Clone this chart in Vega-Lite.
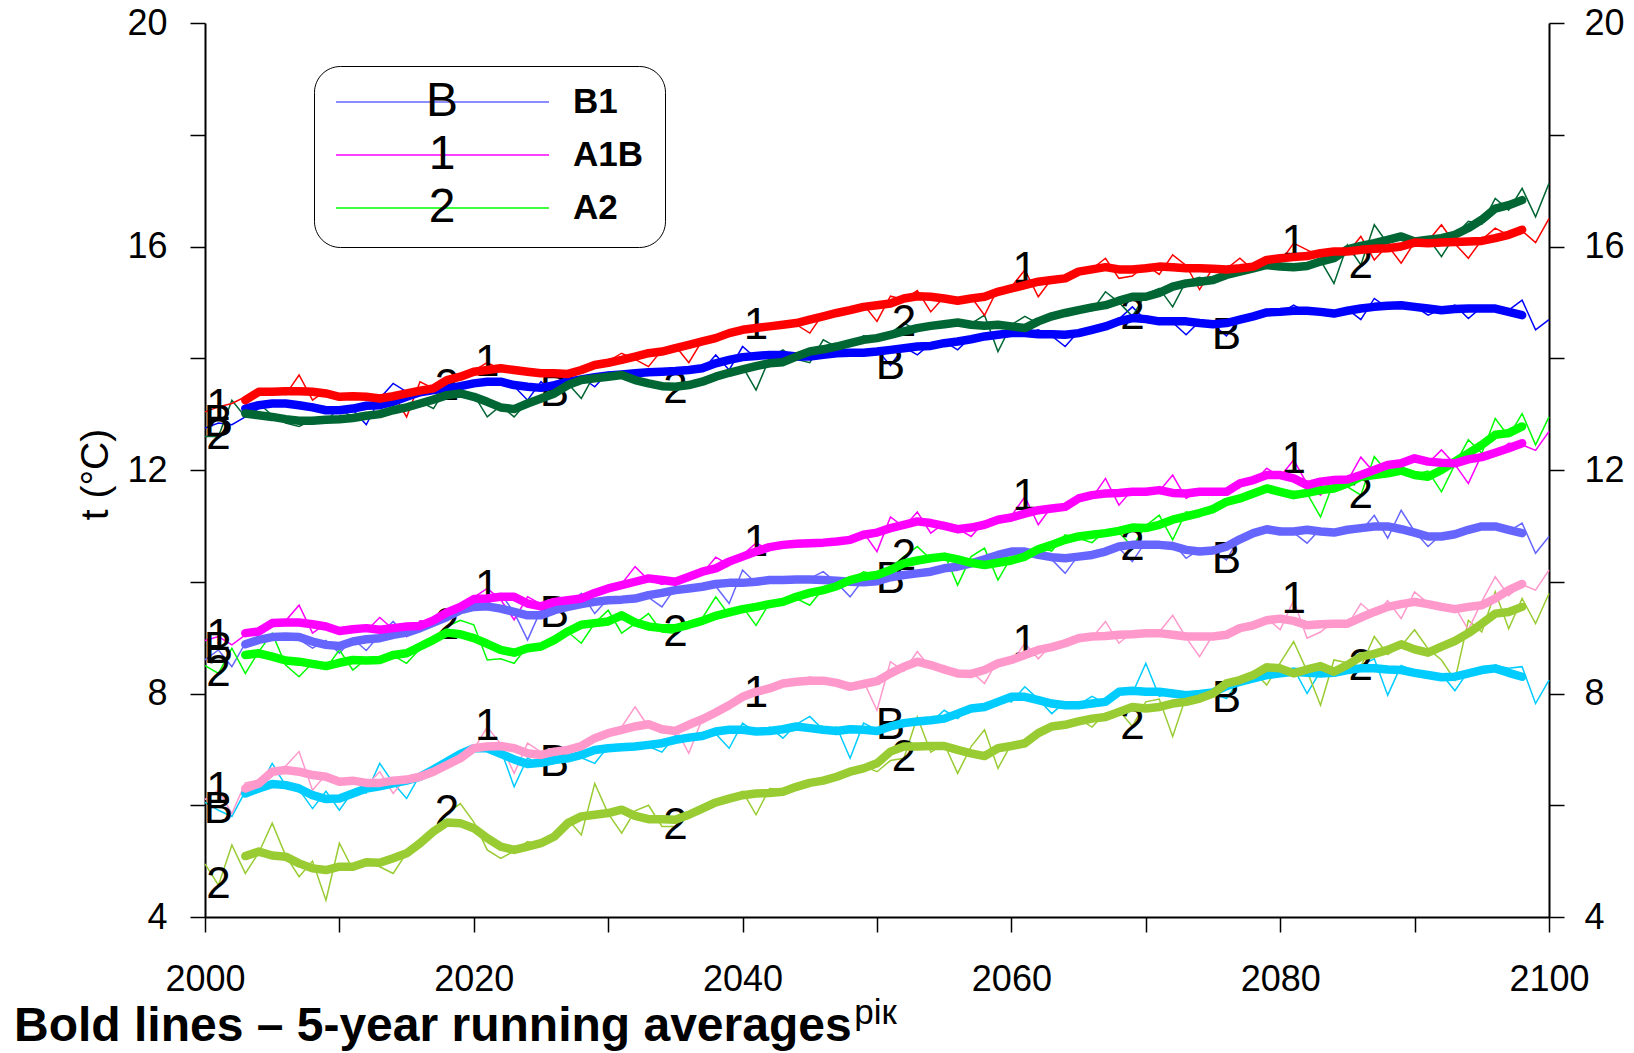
{
  "$schema": "https://vega.github.io/schema/vega-lite/v6.json",
  "width": 1344,
  "height": 894,
  "autosize": {"type": "none"},
  "padding": {"left": 205, "top": 23, "right": 85, "bottom": 136},
  "background": "white",
  "title": {
    "text": "Bold lines – 5-year running averages",
    "orient": "bottom", "anchor": "start", "frame": "group",
    "font": "Liberation Sans", "fontSize": 48, "fontWeight": "bold", "color": "black",
    "dx": -191, "offset": 0, "dy": -27
  },
  "datasets": {
    "annual": [
      {"year":2000,"B1_t":12.75,"A1B_t":13.04,"A2_t":12.60,"B1":8.60,"A1B":8.95,"A2":8.50,"B1_b":6.05,"A1B_b":6.10,"A2_b":4.95},
      {"year":2001,"B1_t":12.84,"A1B_t":13.13,"A2_t":12.60,"B1":8.78,"A1B":9.02,"A2":8.36,"B1_b":5.91,"A1B_b":6.27,"A2_b":4.57},
      {"year":2002,"B1_t":12.81,"A1B_t":13.19,"A2_t":13.25,"B1":8.48,"A1B":8.87,"A2":8.81,"B1_b":5.80,"A1B_b":5.85,"A2_b":5.29},
      {"year":2003,"B1_t":12.95,"A1B_t":13.31,"A2_t":12.95,"B1":8.90,"A1B":9.05,"A2":8.36,"B1_b":6.25,"A1B_b":6.40,"A2_b":4.78},
      {"year":2004,"B1_t":13.10,"A1B_t":13.38,"A2_t":13.19,"B1":9.02,"A1B":9.15,"A2":8.75,"B1_b":6.30,"A1B_b":6.45,"A2_b":5.15},
      {"year":2005,"B1_t":13.22,"A1B_t":13.45,"A2_t":12.98,"B1":8.98,"A1B":9.25,"A2":9.08,"B1_b":6.75,"A1B_b":6.62,"A2_b":5.68},
      {"year":2006,"B1_t":13.20,"A1B_t":13.35,"A2_t":12.84,"B1":9.06,"A1B":9.30,"A2":8.51,"B1_b":6.35,"A1B_b":6.70,"A2_b":5.10},
      {"year":2007,"B1_t":13.14,"A1B_t":13.70,"A2_t":12.78,"B1":8.97,"A1B":9.58,"A2":8.30,"B1_b":6.28,"A1B_b":6.96,"A2_b":4.72},
      {"year":2008,"B1_t":13.18,"A1B_t":13.25,"A2_t":12.90,"B1":8.81,"A1B":9.08,"A2":8.55,"B1_b":5.94,"A1B_b":6.27,"A2_b":5.00},
      {"year":2009,"B1_t":13.05,"A1B_t":13.42,"A2_t":12.86,"B1":8.95,"A1B":9.25,"A2":8.45,"B1_b":6.25,"A1B_b":6.55,"A2_b":4.30},
      {"year":2010,"B1_t":13.12,"A1B_t":13.30,"A2_t":13.13,"B1":8.72,"A1B":9.10,"A2":8.78,"B1_b":5.91,"A1B_b":6.40,"A2_b":5.32},
      {"year":2011,"B1_t":13.08,"A1B_t":13.36,"A2_t":12.92,"B1":8.98,"A1B":9.18,"A2":8.42,"B1_b":6.25,"A1B_b":6.48,"A2_b":4.85},
      {"year":2012,"B1_t":12.81,"A1B_t":13.28,"A2_t":12.95,"B1":8.77,"A1B":9.12,"A2":8.62,"B1_b":6.22,"A1B_b":6.35,"A2_b":5.00},
      {"year":2013,"B1_t":13.28,"A1B_t":13.33,"A2_t":13.02,"B1":9.05,"A1B":9.36,"A2":8.55,"B1_b":6.75,"A1B_b":6.60,"A2_b":4.90},
      {"year":2014,"B1_t":13.55,"A1B_t":13.36,"A2_t":13.05,"B1":9.29,"A1B":9.15,"A2":8.68,"B1_b":6.40,"A1B_b":6.21,"A2_b":4.78},
      {"year":2015,"B1_t":13.40,"A1B_t":12.95,"A2_t":13.15,"B1":9.02,"A1B":9.02,"A2":8.54,"B1_b":6.12,"A1B_b":6.50,"A2_b":5.15},
      {"year":2016,"B1_t":13.35,"A1B_t":13.58,"A2_t":13.22,"B1":9.15,"A1B":9.30,"A2":8.80,"B1_b":6.55,"A1B_b":6.45,"A2_b":5.30},
      {"year":2017,"B1_t":13.50,"A1B_t":13.46,"A2_t":13.10,"B1":9.30,"A1B":9.28,"A2":8.96,"B1_b":6.60,"A1B_b":6.62,"A2_b":5.55},
      {"year":2018,"B1_t":13.44,"A1B_t":13.66,"A2_t":13.49,"B1":9.33,"A1B":9.50,"A2":9.20,"B1_b":6.80,"A1B_b":6.70,"A2_b":5.86},
      {"year":2019,"B1_t":13.55,"A1B_t":13.72,"A2_t":13.40,"B1":9.52,"A1B":9.52,"A2":9.31,"B1_b":6.95,"A1B_b":6.80,"A2_b":6.03},
      {"year":2020,"B1_t":13.52,"A1B_t":13.78,"A2_t":13.35,"B1":9.50,"A1B":9.72,"A2":9.23,"B1_b":7.05,"A1B_b":7.00,"A2_b":5.70},
      {"year":2021,"B1_t":13.62,"A1B_t":13.92,"A2_t":12.95,"B1":9.60,"A1B":9.88,"A2":8.60,"B1_b":7.10,"A1B_b":7.40,"A2_b":5.20},
      {"year":2022,"B1_t":13.56,"A1B_t":13.80,"A2_t":13.15,"B1":9.79,"A1B":9.68,"A2":8.62,"B1_b":7.00,"A1B_b":7.10,"A2_b":5.05},
      {"year":2023,"B1_t":13.50,"A1B_t":13.74,"A2_t":12.95,"B1":9.45,"A1B":9.32,"A2":8.54,"B1_b":6.33,"A1B_b":6.57,"A2_b":5.18},
      {"year":2024,"B1_t":13.25,"A1B_t":13.80,"A2_t":13.22,"B1":8.96,"A1B":9.73,"A2":8.85,"B1_b":6.85,"A1B_b":7.11,"A2_b":5.35},
      {"year":2025,"B1_t":13.58,"A1B_t":13.70,"A2_t":13.30,"B1":9.50,"A1B":9.60,"A2":8.80,"B1_b":6.70,"A1B_b":6.95,"A2_b":5.28},
      {"year":2026,"B1_t":13.37,"A1B_t":13.78,"A2_t":13.42,"B1":9.43,"A1B":9.62,"A2":8.98,"B1_b":6.75,"A1B_b":6.88,"A2_b":5.52},
      {"year":2027,"B1_t":13.62,"A1B_t":13.69,"A2_t":13.55,"B1":9.58,"A1B":9.70,"A2":9.10,"B1_b":6.90,"A1B_b":7.05,"A2_b":5.75},
      {"year":2028,"B1_t":13.66,"A1B_t":13.82,"A2_t":13.28,"B1":9.79,"A1B":9.66,"A2":8.90,"B1_b":6.85,"A1B_b":6.98,"A2_b":5.47},
      {"year":2029,"B1_t":13.49,"A1B_t":13.86,"A2_t":13.72,"B1":9.43,"A1B":9.82,"A2":9.26,"B1_b":6.75,"A1B_b":7.22,"A2_b":6.39},
      {"year":2030,"B1_t":13.75,"A1B_t":13.95,"A2_t":13.62,"B1":9.70,"A1B":9.85,"A2":9.49,"B1_b":7.05,"A1B_b":7.25,"A2_b":5.85},
      {"year":2031,"B1_t":13.70,"A1B_t":14.09,"A2_t":13.75,"B1":9.65,"A1B":9.96,"A2":9.08,"B1_b":7.00,"A1B_b":7.40,"A2_b":5.50},
      {"year":2032,"B1_t":13.78,"A1B_t":13.98,"A2_t":13.58,"B1":9.74,"A1B":10.27,"A2":9.25,"B1_b":7.10,"A1B_b":7.76,"A2_b":5.90},
      {"year":2033,"B1_t":13.72,"A1B_t":13.85,"A2_t":13.52,"B1":9.72,"A1B":10.03,"A2":9.43,"B1_b":7.05,"A1B_b":7.40,"A2_b":6.00},
      {"year":2034,"B1_t":13.80,"A1B_t":14.15,"A2_t":13.56,"B1":9.55,"A1B":9.95,"A2":9.10,"B1_b":6.95,"A1B_b":7.30,"A2_b":5.62},
      {"year":2035,"B1_t":13.74,"A1B_t":14.22,"A2_t":13.43,"B1":9.90,"A1B":10.05,"A2":9.08,"B1_b":7.25,"A1B_b":7.38,"A2_b":5.62},
      {"year":2036,"B1_t":13.83,"A1B_t":13.92,"A2_t":13.55,"B1":9.85,"A1B":10.08,"A2":9.22,"B1_b":7.15,"A1B_b":6.93,"A2_b":5.85},
      {"year":2037,"B1_t":13.78,"A1B_t":14.32,"A2_t":13.62,"B1":9.95,"A1B":10.15,"A2":9.35,"B1_b":7.30,"A1B_b":7.55,"A2_b":6.00},
      {"year":2038,"B1_t":14.06,"A1B_t":14.40,"A2_t":13.70,"B1":9.92,"A1B":10.44,"A2":9.73,"B1_b":7.28,"A1B_b":7.72,"A2_b":6.10},
      {"year":2039,"B1_t":13.79,"A1B_t":14.44,"A2_t":13.72,"B1":9.61,"A1B":10.30,"A2":9.40,"B1_b":7.02,"A1B_b":7.80,"A2_b":6.08},
      {"year":2040,"B1_t":14.21,"A1B_t":14.55,"A2_t":13.85,"B1":10.21,"A1B":10.48,"A2":9.55,"B1_b":7.47,"A1B_b":7.90,"A2_b":6.25},
      {"year":2041,"B1_t":14.00,"A1B_t":14.57,"A2_t":13.43,"B1":9.97,"A1B":10.69,"A2":9.22,"B1_b":7.30,"A1B_b":8.00,"A2_b":5.83},
      {"year":2042,"B1_t":14.10,"A1B_t":14.53,"A2_t":14.00,"B1":10.02,"A1B":10.58,"A2":9.62,"B1_b":7.40,"A1B_b":8.05,"A2_b":6.30},
      {"year":2043,"B1_t":14.02,"A1B_t":14.64,"A2_t":14.15,"B1":10.08,"A1B":10.70,"A2":9.68,"B1_b":7.20,"A1B_b":8.22,"A2_b":6.28},
      {"year":2044,"B1_t":14.06,"A1B_t":14.60,"A2_t":13.98,"B1":9.99,"A1B":10.64,"A2":9.70,"B1_b":7.45,"A1B_b":8.18,"A2_b":6.35},
      {"year":2045,"B1_t":14.00,"A1B_t":14.45,"A2_t":13.92,"B1":10.06,"A1B":10.72,"A2":9.58,"B1_b":7.59,"A1B_b":8.30,"A2_b":6.42},
      {"year":2046,"B1_t":14.10,"A1B_t":14.80,"A2_t":14.33,"B1":10.18,"A1B":10.68,"A2":9.88,"B1_b":7.35,"A1B_b":8.20,"A2_b":6.40},
      {"year":2047,"B1_t":14.05,"A1B_t":14.84,"A2_t":14.20,"B1":9.98,"A1B":10.75,"A2":9.95,"B1_b":7.40,"A1B_b":8.25,"A2_b":6.55},
      {"year":2048,"B1_t":14.14,"A1B_t":14.86,"A2_t":14.25,"B1":9.73,"A1B":10.70,"A2":10.02,"B1_b":6.84,"A1B_b":8.10,"A2_b":6.65},
      {"year":2049,"B1_t":14.08,"A1B_t":14.96,"A2_t":14.40,"B1":10.05,"A1B":10.88,"A2":10.18,"B1_b":7.47,"A1B_b":8.22,"A2_b":6.70},
      {"year":2050,"B1_t":14.15,"A1B_t":14.66,"A2_t":14.35,"B1":10.02,"A1B":10.54,"A2":10.12,"B1_b":7.35,"A1B_b":7.70,"A2_b":6.60},
      {"year":2051,"B1_t":13.87,"A1B_t":15.11,"A2_t":14.45,"B1":10.03,"A1B":11.16,"A2":10.25,"B1_b":7.41,"A1B_b":8.57,"A2_b":6.80},
      {"year":2052,"B1_t":14.20,"A1B_t":15.05,"A2_t":14.63,"B1":10.15,"A1B":10.98,"A2":10.45,"B1_b":7.45,"A1B_b":8.40,"A2_b":6.84},
      {"year":2053,"B1_t":14.06,"A1B_t":15.21,"A2_t":14.50,"B1":10.12,"A1B":11.25,"A2":10.63,"B1_b":7.55,"A1B_b":8.75,"A2_b":7.58},
      {"year":2054,"B1_t":14.26,"A1B_t":14.83,"A2_t":14.62,"B1":10.22,"A1B":10.87,"A2":10.40,"B1_b":7.48,"A1B_b":8.45,"A2_b":6.95},
      {"year":2055,"B1_t":14.30,"A1B_t":15.10,"A2_t":14.55,"B1":10.20,"A1B":11.05,"A2":10.50,"B1_b":7.70,"A1B_b":8.50,"A2_b":7.10},
      {"year":2056,"B1_t":14.15,"A1B_t":15.05,"A2_t":14.68,"B1":10.30,"A1B":10.95,"A2":9.94,"B1_b":7.55,"A1B_b":8.38,"A2_b":6.57},
      {"year":2057,"B1_t":14.38,"A1B_t":15.10,"A2_t":14.62,"B1":10.28,"A1B":10.81,"A2":10.45,"B1_b":7.75,"A1B_b":8.40,"A2_b":7.05},
      {"year":2058,"B1_t":14.42,"A1B_t":14.77,"A2_t":14.77,"B1":10.44,"A1B":11.08,"A2":10.60,"B1_b":7.70,"A1B_b":8.18,"A2_b":7.35},
      {"year":2059,"B1_t":14.40,"A1B_t":15.25,"A2_t":14.12,"B1":10.45,"A1B":11.12,"A2":10.03,"B1_b":7.90,"A1B_b":8.60,"A2_b":6.66},
      {"year":2060,"B1_t":14.50,"A1B_t":15.28,"A2_t":14.60,"B1":10.58,"A1B":11.18,"A2":10.45,"B1_b":7.85,"A1B_b":8.55,"A2_b":7.10},
      {"year":2061,"B1_t":14.45,"A1B_t":15.58,"A2_t":14.75,"B1":10.56,"A1B":11.52,"A2":10.38,"B1_b":8.12,"A1B_b":8.90,"A2_b":7.05},
      {"year":2062,"B1_t":14.51,"A1B_t":15.10,"A2_t":14.62,"B1":10.50,"A1B":11.02,"A2":10.62,"B1_b":7.90,"A1B_b":8.62,"A2_b":7.35},
      {"year":2063,"B1_t":14.40,"A1B_t":15.42,"A2_t":14.80,"B1":10.40,"A1B":11.35,"A2":10.55,"B1_b":7.64,"A1B_b":8.88,"A2_b":7.45},
      {"year":2064,"B1_t":14.21,"A1B_t":15.47,"A2_t":14.76,"B1":10.15,"A1B":11.30,"A2":10.84,"B1_b":7.85,"A1B_b":8.85,"A2_b":7.40},
      {"year":2065,"B1_t":14.48,"A1B_t":15.58,"A2_t":14.90,"B1":10.48,"A1B":11.52,"A2":10.78,"B1_b":7.80,"A1B_b":9.05,"A2_b":7.55},
      {"year":2066,"B1_t":14.55,"A1B_t":15.60,"A2_t":14.85,"B1":10.45,"A1B":11.50,"A2":10.70,"B1_b":7.95,"A1B_b":9.00,"A2_b":7.40},
      {"year":2067,"B1_t":14.60,"A1B_t":15.79,"A2_t":15.19,"B1":10.58,"A1B":11.85,"A2":10.92,"B1_b":7.82,"A1B_b":9.29,"A2_b":7.65},
      {"year":2068,"B1_t":14.70,"A1B_t":15.43,"A2_t":15.00,"B1":10.60,"A1B":11.37,"A2":10.88,"B1_b":8.05,"A1B_b":8.90,"A2_b":7.70},
      {"year":2069,"B1_t":14.92,"A1B_t":15.47,"A2_t":14.75,"B1":10.36,"A1B":11.65,"A2":10.63,"B1_b":8.00,"A1B_b":9.10,"A2_b":7.41},
      {"year":2070,"B1_t":14.68,"A1B_t":15.67,"A2_t":15.15,"B1":10.72,"A1B":11.60,"A2":11.00,"B1_b":8.54,"A1B_b":9.05,"A2_b":7.85},
      {"year":2071,"B1_t":14.70,"A1B_t":15.50,"A2_t":15.25,"B1":10.68,"A1B":11.62,"A2":11.19,"B1_b":7.95,"A1B_b":9.10,"A2_b":7.90},
      {"year":2072,"B1_t":14.64,"A1B_t":15.85,"A2_t":14.92,"B1":10.70,"A1B":11.91,"A2":10.75,"B1_b":8.02,"A1B_b":9.40,"A2_b":7.23},
      {"year":2073,"B1_t":14.42,"A1B_t":15.66,"A2_t":15.38,"B1":10.42,"A1B":11.49,"A2":11.25,"B1_b":7.90,"A1B_b":9.00,"A2_b":7.95},
      {"year":2074,"B1_t":14.66,"A1B_t":15.23,"A2_t":15.45,"B1":10.58,"A1B":11.65,"A2":11.20,"B1_b":8.05,"A1B_b":8.66,"A2_b":7.90},
      {"year":2075,"B1_t":14.60,"A1B_t":15.62,"A2_t":15.35,"B1":10.55,"A1B":11.58,"A2":11.35,"B1_b":8.00,"A1B_b":9.05,"A2_b":8.00},
      {"year":2076,"B1_t":14.40,"A1B_t":15.60,"A2_t":15.52,"B1":10.39,"A1B":11.62,"A2":11.48,"B1_b":7.91,"A1B_b":9.02,"A2_b":8.20},
      {"year":2077,"B1_t":14.72,"A1B_t":15.79,"A2_t":15.50,"B1":10.80,"A1B":11.80,"A2":11.45,"B1_b":8.25,"A1B_b":9.20,"A2_b":8.25},
      {"year":2078,"B1_t":14.78,"A1B_t":15.58,"A2_t":15.65,"B1":10.90,"A1B":11.78,"A2":11.62,"B1_b":8.30,"A1B_b":9.18,"A2_b":8.40},
      {"year":2079,"B1_t":14.85,"A1B_t":15.75,"A2_t":15.62,"B1":10.92,"A1B":12.03,"A2":11.70,"B1_b":8.40,"A1B_b":9.35,"A2_b":8.15},
      {"year":2080,"B1_t":14.80,"A1B_t":15.72,"A2_t":15.70,"B1":10.96,"A1B":11.88,"A2":11.55,"B1_b":8.32,"A1B_b":9.14,"A2_b":8.55},
      {"year":2081,"B1_t":14.95,"A1B_t":16.06,"A2_t":15.60,"B1":10.88,"A1B":12.18,"A2":11.62,"B1_b":8.45,"A1B_b":9.67,"A2_b":8.93},
      {"year":2082,"B1_t":14.82,"A1B_t":15.94,"A2_t":15.68,"B1":10.69,"A1B":11.75,"A2":11.58,"B1_b":8.00,"A1B_b":8.99,"A2_b":8.40},
      {"year":2083,"B1_t":14.86,"A1B_t":15.82,"A2_t":15.75,"B1":10.95,"A1B":11.55,"A2":11.16,"B1_b":8.40,"A1B_b":9.10,"A2_b":7.79},
      {"year":2084,"B1_t":14.78,"A1B_t":15.95,"A2_t":15.34,"B1":10.86,"A1B":11.85,"A2":11.80,"B1_b":8.35,"A1B_b":9.30,"A2_b":8.60},
      {"year":2085,"B1_t":14.88,"A1B_t":15.88,"A2_t":16.03,"B1":10.95,"A1B":11.80,"A2":11.70,"B1_b":8.45,"A1B_b":9.22,"A2_b":8.55},
      {"year":2086,"B1_t":14.69,"A1B_t":16.18,"A2_t":15.67,"B1":10.90,"A1B":12.23,"A2":11.55,"B1_b":8.50,"A1B_b":9.61,"A2_b":8.48},
      {"year":2087,"B1_t":15.07,"A1B_t":15.76,"A2_t":16.39,"B1":11.19,"A1B":11.95,"A2":12.24,"B1_b":8.62,"A1B_b":9.40,"A2_b":9.02},
      {"year":2088,"B1_t":14.90,"A1B_t":16.02,"A2_t":16.05,"B1":10.78,"A1B":12.12,"A2":11.95,"B1_b":7.97,"A1B_b":9.66,"A2_b":8.70},
      {"year":2089,"B1_t":15.00,"A1B_t":15.70,"A2_t":16.20,"B1":11.28,"A1B":12.08,"A2":12.05,"B1_b":8.50,"A1B_b":9.34,"A2_b":8.85},
      {"year":2090,"B1_t":14.93,"A1B_t":16.08,"A2_t":16.08,"B1":10.90,"A1B":12.25,"A2":11.92,"B1_b":8.40,"A1B_b":9.82,"A2_b":9.14},
      {"year":2091,"B1_t":14.77,"A1B_t":16.10,"A2_t":16.15,"B1":10.63,"A1B":12.12,"A2":11.98,"B1_b":8.30,"A1B_b":9.62,"A2_b":8.80},
      {"year":2092,"B1_t":14.88,"A1B_t":16.39,"A2_t":15.82,"B1":10.85,"A1B":12.36,"A2":11.61,"B1_b":8.35,"A1B_b":9.58,"A2_b":8.60},
      {"year":2093,"B1_t":14.95,"A1B_t":16.05,"A2_t":16.20,"B1":10.90,"A1B":12.10,"A2":12.10,"B1_b":8.05,"A1B_b":9.55,"A2_b":8.24},
      {"year":2094,"B1_t":14.71,"A1B_t":15.79,"A2_t":16.45,"B1":10.88,"A1B":11.76,"A2":12.54,"B1_b":8.40,"A1B_b":9.14,"A2_b":9.31},
      {"year":2095,"B1_t":14.92,"A1B_t":16.12,"A2_t":16.40,"B1":11.00,"A1B":12.28,"A2":12.30,"B1_b":8.48,"A1B_b":9.65,"A2_b":9.10},
      {"year":2096,"B1_t":14.90,"A1B_t":16.33,"A2_t":16.86,"B1":10.97,"A1B":12.30,"A2":12.92,"B1_b":8.50,"A1B_b":10.09,"A2_b":9.82},
      {"year":2097,"B1_t":14.86,"A1B_t":16.20,"A2_t":16.65,"B1":10.90,"A1B":12.48,"A2":12.60,"B1_b":8.45,"A1B_b":9.75,"A2_b":9.16},
      {"year":2098,"B1_t":15.04,"A1B_t":16.28,"A2_t":17.04,"B1":11.05,"A1B":12.45,"A2":13.01,"B1_b":8.48,"A1B_b":9.95,"A2_b":9.70},
      {"year":2099,"B1_t":14.51,"A1B_t":16.07,"A2_t":16.53,"B1":10.51,"A1B":12.35,"A2":12.45,"B1_b":7.82,"A1B_b":9.85,"A2_b":9.25},
      {"year":2100,"B1_t":14.69,"A1B_t":16.50,"A2_t":17.13,"B1":10.81,"A1B":12.69,"A2":12.95,"B1_b":8.24,"A1B_b":10.21,"A2_b":9.79}
    ],
    "smooth": [
      {"year":2003,"B1_t":13.10,"A1B_t":13.25,"A2_t":13.01,"B1":8.88,"A1B":9.08,"A2":8.69,"B1_b":6.21,"A1B_b":6.30,"A2_b":5.09},
      {"year":2004,"B1_t":13.16,"A1B_t":13.40,"A2_t":12.98,"B1":8.96,"A1B":9.11,"A2":8.72,"B1_b":6.30,"A1B_b":6.39,"A2_b":5.17},
      {"year":2005,"B1_t":13.19,"A1B_t":13.40,"A2_t":12.95,"B1":9.01,"A1B":9.26,"A2":8.66,"B1_b":6.38,"A1B_b":6.60,"A2_b":5.10},
      {"year":2006,"B1_t":13.19,"A1B_t":13.41,"A2_t":12.91,"B1":9.02,"A1B":9.27,"A2":8.59,"B1_b":6.36,"A1B_b":6.63,"A2_b":5.08},
      {"year":2007,"B1_t":13.16,"A1B_t":13.41,"A2_t":12.88,"B1":9.01,"A1B":9.27,"A2":8.57,"B1_b":6.30,"A1B_b":6.60,"A2_b":4.96},
      {"year":2008,"B1_t":13.12,"A1B_t":13.40,"A2_t":12.88,"B1":8.93,"A1B":9.24,"A2":8.53,"B1_b":6.18,"A1B_b":6.54,"A2_b":4.87},
      {"year":2009,"B1_t":13.07,"A1B_t":13.37,"A2_t":12.90,"B1":8.87,"A1B":9.20,"A2":8.49,"B1_b":6.11,"A1B_b":6.51,"A2_b":4.84},
      {"year":2010,"B1_t":13.07,"A1B_t":13.31,"A2_t":12.91,"B1":8.85,"A1B":9.12,"A2":8.55,"B1_b":6.12,"A1B_b":6.42,"A2_b":4.90},
      {"year":2011,"B1_t":13.10,"A1B_t":13.32,"A2_t":12.93,"B1":8.93,"A1B":9.15,"A2":8.60,"B1_b":6.21,"A1B_b":6.44,"A2_b":4.90},
      {"year":2012,"B1_t":13.15,"A1B_t":13.31,"A2_t":12.97,"B1":8.97,"A1B":9.17,"A2":8.59,"B1_b":6.30,"A1B_b":6.40,"A2_b":4.98},
      {"year":2013,"B1_t":13.16,"A1B_t":13.28,"A2_t":13.00,"B1":8.99,"A1B":9.14,"A2":8.60,"B1_b":6.34,"A1B_b":6.40,"A2_b":4.97},
      {"year":2014,"B1_t":13.22,"A1B_t":13.32,"A2_t":13.07,"B1":9.05,"A1B":9.17,"A2":8.69,"B1_b":6.39,"A1B_b":6.44,"A2_b":5.05},
      {"year":2015,"B1_t":13.31,"A1B_t":13.37,"A2_t":13.12,"B1":9.09,"A1B":9.20,"A2":8.72,"B1_b":6.44,"A1B_b":6.46,"A2_b":5.14},
      {"year":2016,"B1_t":13.39,"A1B_t":13.42,"A2_t":13.19,"B1":9.17,"A1B":9.21,"A2":8.84,"B1_b":6.51,"A1B_b":6.51,"A2_b":5.32},
      {"year":2017,"B1_t":13.43,"A1B_t":13.46,"A2_t":13.26,"B1":9.27,"A1B":9.31,"A2":8.96,"B1_b":6.64,"A1B_b":6.60,"A2_b":5.53},
      {"year":2018,"B1_t":13.46,"A1B_t":13.61,"A2_t":13.34,"B1":9.37,"A1B":9.45,"A2":9.09,"B1_b":6.78,"A1B_b":6.72,"A2_b":5.69},
      {"year":2019,"B1_t":13.50,"A1B_t":13.67,"A2_t":13.37,"B1":9.49,"A1B":9.55,"A2":9.06,"B1_b":6.92,"A1B_b":6.84,"A2_b":5.68},
      {"year":2020,"B1_t":13.55,"A1B_t":13.76,"A2_t":13.31,"B1":9.55,"A1B":9.69,"A2":8.99,"B1_b":7.02,"A1B_b":7.02,"A2_b":5.59},
      {"year":2021,"B1_t":13.58,"A1B_t":13.79,"A2_t":13.22,"B1":9.56,"A1B":9.70,"A2":8.89,"B1_b":7.02,"A1B_b":7.05,"A2_b":5.41},
      {"year":2022,"B1_t":13.58,"A1B_t":13.82,"A2_t":13.12,"B1":9.52,"A1B":9.73,"A2":8.78,"B1_b":6.92,"A1B_b":7.06,"A2_b":5.26},
      {"year":2023,"B1_t":13.52,"A1B_t":13.79,"A2_t":13.09,"B1":9.46,"A1B":9.73,"A2":8.73,"B1_b":6.82,"A1B_b":7.02,"A2_b":5.20},
      {"year":2024,"B1_t":13.49,"A1B_t":13.76,"A2_t":13.19,"B1":9.40,"A1B":9.61,"A2":8.81,"B1_b":6.74,"A1B_b":6.93,"A2_b":5.26},
      {"year":2025,"B1_t":13.47,"A1B_t":13.73,"A2_t":13.28,"B1":9.40,"A1B":9.56,"A2":8.84,"B1_b":6.76,"A1B_b":6.90,"A2_b":5.32},
      {"year":2026,"B1_t":13.52,"A1B_t":13.73,"A2_t":13.37,"B1":9.49,"A1B":9.64,"A2":8.96,"B1_b":6.81,"A1B_b":6.96,"A2_b":5.44},
      {"year":2027,"B1_t":13.58,"A1B_t":13.72,"A2_t":13.52,"B1":9.55,"A1B":9.67,"A2":9.11,"B1_b":6.84,"A1B_b":6.99,"A2_b":5.68},
      {"year":2028,"B1_t":13.62,"A1B_t":13.79,"A2_t":13.61,"B1":9.60,"A1B":9.70,"A2":9.23,"B1_b":6.90,"A1B_b":7.06,"A2_b":5.80},
      {"year":2029,"B1_t":13.66,"A1B_t":13.88,"A2_t":13.64,"B1":9.64,"A1B":9.80,"A2":9.26,"B1_b":6.99,"A1B_b":7.20,"A2_b":5.83},
      {"year":2030,"B1_t":13.69,"A1B_t":13.92,"A2_t":13.67,"B1":9.67,"A1B":9.88,"A2":9.29,"B1_b":7.02,"A1B_b":7.29,"A2_b":5.86},
      {"year":2031,"B1_t":13.71,"A1B_t":13.97,"A2_t":13.70,"B1":9.68,"A1B":9.94,"A2":9.40,"B1_b":7.04,"A1B_b":7.35,"A2_b":5.92},
      {"year":2032,"B1_t":13.73,"A1B_t":14.03,"A2_t":13.61,"B1":9.70,"A1B":10.00,"A2":9.27,"B1_b":7.05,"A1B_b":7.41,"A2_b":5.81},
      {"year":2033,"B1_t":13.75,"A1B_t":14.09,"A2_t":13.55,"B1":9.76,"A1B":10.06,"A2":9.20,"B1_b":7.08,"A1B_b":7.45,"A2_b":5.75},
      {"year":2034,"B1_t":13.76,"A1B_t":14.12,"A2_t":13.50,"B1":9.80,"A1B":10.03,"A2":9.17,"B1_b":7.11,"A1B_b":7.36,"A2_b":5.75},
      {"year":2035,"B1_t":13.77,"A1B_t":14.18,"A2_t":13.49,"B1":9.85,"A1B":10.00,"A2":9.17,"B1_b":7.17,"A1B_b":7.33,"A2_b":5.74},
      {"year":2036,"B1_t":13.79,"A1B_t":14.24,"A2_t":13.52,"B1":9.88,"A1B":10.09,"A2":9.23,"B1_b":7.21,"A1B_b":7.44,"A2_b":5.83},
      {"year":2037,"B1_t":13.82,"A1B_t":14.30,"A2_t":13.58,"B1":9.91,"A1B":10.18,"A2":9.30,"B1_b":7.24,"A1B_b":7.54,"A2_b":5.94},
      {"year":2038,"B1_t":13.91,"A1B_t":14.36,"A2_t":13.67,"B1":9.96,"A1B":10.24,"A2":9.39,"B1_b":7.32,"A1B_b":7.66,"A2_b":6.05},
      {"year":2039,"B1_t":13.97,"A1B_t":14.45,"A2_t":13.74,"B1":9.98,"A1B":10.36,"A2":9.45,"B1_b":7.35,"A1B_b":7.79,"A2_b":6.12},
      {"year":2040,"B1_t":14.02,"A1B_t":14.51,"A2_t":13.80,"B1":9.98,"A1B":10.45,"A2":9.51,"B1_b":7.35,"A1B_b":7.94,"A2_b":6.18},
      {"year":2041,"B1_t":14.04,"A1B_t":14.54,"A2_t":13.86,"B1":10.00,"A1B":10.54,"A2":9.55,"B1_b":7.32,"A1B_b":8.03,"A2_b":6.21},
      {"year":2042,"B1_t":14.06,"A1B_t":14.57,"A2_t":13.91,"B1":10.03,"A1B":10.62,"A2":9.60,"B1_b":7.33,"A1B_b":8.09,"A2_b":6.22},
      {"year":2043,"B1_t":14.06,"A1B_t":14.60,"A2_t":13.93,"B1":10.03,"A1B":10.66,"A2":9.64,"B1_b":7.36,"A1B_b":8.18,"A2_b":6.24},
      {"year":2044,"B1_t":14.03,"A1B_t":14.63,"A2_t":14.03,"B1":10.04,"A1B":10.68,"A2":9.73,"B1_b":7.41,"A1B_b":8.21,"A2_b":6.33},
      {"year":2045,"B1_t":14.03,"A1B_t":14.69,"A2_t":14.12,"B1":10.04,"A1B":10.69,"A2":9.80,"B1_b":7.38,"A1B_b":8.23,"A2_b":6.40},
      {"year":2046,"B1_t":14.06,"A1B_t":14.75,"A2_t":14.16,"B1":10.03,"A1B":10.70,"A2":9.85,"B1_b":7.35,"A1B_b":8.23,"A2_b":6.44},
      {"year":2047,"B1_t":14.09,"A1B_t":14.81,"A2_t":14.21,"B1":10.02,"A1B":10.72,"A2":9.92,"B1_b":7.33,"A1B_b":8.19,"A2_b":6.51},
      {"year":2048,"B1_t":14.10,"A1B_t":14.86,"A2_t":14.27,"B1":10.00,"A1B":10.75,"A2":10.03,"B1_b":7.36,"A1B_b":8.12,"A2_b":6.60},
      {"year":2049,"B1_t":14.10,"A1B_t":14.92,"A2_t":14.33,"B1":9.99,"A1B":10.84,"A2":10.09,"B1_b":7.35,"A1B_b":8.17,"A2_b":6.66},
      {"year":2050,"B1_t":14.12,"A1B_t":14.95,"A2_t":14.36,"B1":10.01,"A1B":10.88,"A2":10.12,"B1_b":7.33,"A1B_b":8.22,"A2_b":6.75},
      {"year":2051,"B1_t":14.15,"A1B_t":14.98,"A2_t":14.42,"B1":10.08,"A1B":10.96,"A2":10.21,"B1_b":7.41,"A1B_b":8.36,"A2_b":6.96},
      {"year":2052,"B1_t":14.18,"A1B_t":15.07,"A2_t":14.48,"B1":10.12,"A1B":11.02,"A2":10.33,"B1_b":7.47,"A1B_b":8.48,"A2_b":7.05},
      {"year":2053,"B1_t":14.21,"A1B_t":15.11,"A2_t":14.54,"B1":10.15,"A1B":11.08,"A2":10.38,"B1_b":7.50,"A1B_b":8.57,"A2_b":7.05},
      {"year":2054,"B1_t":14.22,"A1B_t":15.10,"A2_t":14.58,"B1":10.18,"A1B":11.05,"A2":10.42,"B1_b":7.52,"A1B_b":8.51,"A2_b":7.06},
      {"year":2055,"B1_t":14.27,"A1B_t":15.07,"A2_t":14.61,"B1":10.24,"A1B":11.00,"A2":10.45,"B1_b":7.55,"A1B_b":8.43,"A2_b":7.06},
      {"year":2056,"B1_t":14.30,"A1B_t":15.03,"A2_t":14.64,"B1":10.27,"A1B":10.94,"A2":10.40,"B1_b":7.64,"A1B_b":8.36,"A2_b":6.99},
      {"year":2057,"B1_t":14.34,"A1B_t":15.07,"A2_t":14.60,"B1":10.33,"A1B":10.97,"A2":10.34,"B1_b":7.73,"A1B_b":8.35,"A2_b":6.93},
      {"year":2058,"B1_t":14.39,"A1B_t":15.10,"A2_t":14.58,"B1":10.40,"A1B":11.02,"A2":10.30,"B1_b":7.76,"A1B_b":8.42,"A2_b":6.88},
      {"year":2059,"B1_t":14.42,"A1B_t":15.19,"A2_t":14.60,"B1":10.48,"A1B":11.11,"A2":10.34,"B1_b":7.85,"A1B_b":8.54,"A2_b":7.02},
      {"year":2060,"B1_t":14.45,"A1B_t":15.25,"A2_t":14.57,"B1":10.54,"A1B":11.15,"A2":10.38,"B1_b":7.94,"A1B_b":8.60,"A2_b":7.06},
      {"year":2061,"B1_t":14.45,"A1B_t":15.31,"A2_t":14.54,"B1":10.54,"A1B":11.22,"A2":10.45,"B1_b":7.94,"A1B_b":8.69,"A2_b":7.11},
      {"year":2062,"B1_t":14.43,"A1B_t":15.37,"A2_t":14.66,"B1":10.48,"A1B":11.28,"A2":10.58,"B1_b":7.88,"A1B_b":8.78,"A2_b":7.29},
      {"year":2063,"B1_t":14.43,"A1B_t":15.40,"A2_t":14.75,"B1":10.44,"A1B":11.31,"A2":10.66,"B1_b":7.82,"A1B_b":8.83,"A2_b":7.41},
      {"year":2064,"B1_t":14.42,"A1B_t":15.43,"A2_t":14.81,"B1":10.42,"A1B":11.34,"A2":10.75,"B1_b":7.79,"A1B_b":8.90,"A2_b":7.44},
      {"year":2065,"B1_t":14.45,"A1B_t":15.55,"A2_t":14.86,"B1":10.45,"A1B":11.49,"A2":10.81,"B1_b":7.79,"A1B_b":8.99,"A2_b":7.50},
      {"year":2066,"B1_t":14.51,"A1B_t":15.59,"A2_t":14.91,"B1":10.48,"A1B":11.55,"A2":10.84,"B1_b":7.82,"A1B_b":9.02,"A2_b":7.55},
      {"year":2067,"B1_t":14.57,"A1B_t":15.63,"A2_t":14.95,"B1":10.54,"A1B":11.58,"A2":10.87,"B1_b":7.85,"A1B_b":9.03,"A2_b":7.58},
      {"year":2068,"B1_t":14.66,"A1B_t":15.59,"A2_t":15.03,"B1":10.63,"A1B":11.59,"A2":10.91,"B1_b":8.03,"A1B_b":9.05,"A2_b":7.67},
      {"year":2069,"B1_t":14.72,"A1B_t":15.59,"A2_t":15.10,"B1":10.66,"A1B":11.61,"A2":10.97,"B1_b":8.05,"A1B_b":9.06,"A2_b":7.76},
      {"year":2070,"B1_t":14.70,"A1B_t":15.61,"A2_t":15.10,"B1":10.66,"A1B":11.61,"A2":10.96,"B1_b":8.03,"A1B_b":9.08,"A2_b":7.73},
      {"year":2071,"B1_t":14.66,"A1B_t":15.64,"A2_t":15.17,"B1":10.66,"A1B":11.64,"A2":11.02,"B1_b":8.03,"A1B_b":9.08,"A2_b":7.76},
      {"year":2072,"B1_t":14.66,"A1B_t":15.63,"A2_t":15.28,"B1":10.64,"A1B":11.59,"A2":11.11,"B1_b":8.00,"A1B_b":9.05,"A2_b":7.82},
      {"year":2073,"B1_t":14.66,"A1B_t":15.61,"A2_t":15.34,"B1":10.57,"A1B":11.58,"A2":11.17,"B1_b":7.97,"A1B_b":9.02,"A2_b":7.85},
      {"year":2074,"B1_t":14.63,"A1B_t":15.61,"A2_t":15.37,"B1":10.54,"A1B":11.61,"A2":11.23,"B1_b":7.99,"A1B_b":9.02,"A2_b":7.91},
      {"year":2075,"B1_t":14.61,"A1B_t":15.60,"A2_t":15.40,"B1":10.56,"A1B":11.61,"A2":11.30,"B1_b":8.02,"A1B_b":9.02,"A2_b":8.00},
      {"year":2076,"B1_t":14.63,"A1B_t":15.59,"A2_t":15.49,"B1":10.63,"A1B":11.61,"A2":11.43,"B1_b":8.13,"A1B_b":9.05,"A2_b":8.18},
      {"year":2077,"B1_t":14.69,"A1B_t":15.61,"A2_t":15.55,"B1":10.76,"A1B":11.76,"A2":11.49,"B1_b":8.21,"A1B_b":9.17,"A2_b":8.24},
      {"year":2078,"B1_t":14.75,"A1B_t":15.64,"A2_t":15.61,"B1":10.87,"A1B":11.82,"A2":11.58,"B1_b":8.27,"A1B_b":9.22,"A2_b":8.33},
      {"year":2079,"B1_t":14.82,"A1B_t":15.76,"A2_t":15.67,"B1":10.94,"A1B":11.91,"A2":11.67,"B1_b":8.33,"A1B_b":9.31,"A2_b":8.47},
      {"year":2080,"B1_t":14.83,"A1B_t":15.79,"A2_t":15.64,"B1":10.90,"A1B":11.91,"A2":11.61,"B1_b":8.36,"A1B_b":9.34,"A2_b":8.45},
      {"year":2081,"B1_t":14.85,"A1B_t":15.81,"A2_t":15.63,"B1":10.90,"A1B":11.85,"A2":11.55,"B1_b":8.39,"A1B_b":9.30,"A2_b":8.36},
      {"year":2082,"B1_t":14.85,"A1B_t":15.83,"A2_t":15.65,"B1":10.93,"A1B":11.73,"A2":11.59,"B1_b":8.37,"A1B_b":9.22,"A2_b":8.43},
      {"year":2083,"B1_t":14.83,"A1B_t":15.88,"A2_t":15.73,"B1":10.90,"A1B":11.79,"A2":11.64,"B1_b":8.36,"A1B_b":9.24,"A2_b":8.49},
      {"year":2084,"B1_t":14.80,"A1B_t":15.91,"A2_t":15.79,"B1":10.88,"A1B":11.82,"A2":11.67,"B1_b":8.37,"A1B_b":9.25,"A2_b":8.39},
      {"year":2085,"B1_t":14.85,"A1B_t":15.91,"A2_t":15.95,"B1":10.93,"A1B":11.83,"A2":11.76,"B1_b":8.42,"A1B_b":9.25,"A2_b":8.51},
      {"year":2086,"B1_t":14.89,"A1B_t":15.94,"A2_t":16.01,"B1":10.96,"A1B":11.91,"A2":11.88,"B1_b":8.45,"A1B_b":9.36,"A2_b":8.66},
      {"year":2087,"B1_t":14.92,"A1B_t":15.96,"A2_t":16.06,"B1":10.99,"A1B":12.00,"A2":11.91,"B1_b":8.45,"A1B_b":9.46,"A2_b":8.71},
      {"year":2088,"B1_t":14.94,"A1B_t":15.97,"A2_t":16.12,"B1":10.99,"A1B":12.09,"A2":11.94,"B1_b":8.43,"A1B_b":9.55,"A2_b":8.78},
      {"year":2089,"B1_t":14.95,"A1B_t":16.00,"A2_t":16.18,"B1":10.94,"A1B":12.12,"A2":11.99,"B1_b":8.42,"A1B_b":9.60,"A2_b":8.88},
      {"year":2090,"B1_t":14.92,"A1B_t":16.07,"A2_t":16.09,"B1":10.88,"A1B":12.21,"A2":11.91,"B1_b":8.37,"A1B_b":9.64,"A2_b":8.79},
      {"year":2091,"B1_t":14.89,"A1B_t":16.06,"A2_t":16.12,"B1":10.81,"A1B":12.15,"A2":11.88,"B1_b":8.33,"A1B_b":9.60,"A2_b":8.73},
      {"year":2092,"B1_t":14.86,"A1B_t":16.07,"A2_t":16.15,"B1":10.81,"A1B":12.13,"A2":12.00,"B1_b":8.29,"A1B_b":9.55,"A2_b":8.84},
      {"year":2093,"B1_t":14.88,"A1B_t":16.08,"A2_t":16.21,"B1":10.85,"A1B":12.12,"A2":12.15,"B1_b":8.30,"A1B_b":9.51,"A2_b":8.94},
      {"year":2094,"B1_t":14.89,"A1B_t":16.09,"A2_t":16.33,"B1":10.93,"A1B":12.19,"A2":12.30,"B1_b":8.36,"A1B_b":9.55,"A2_b":9.08},
      {"year":2095,"B1_t":14.89,"A1B_t":16.10,"A2_t":16.48,"B1":10.99,"A1B":12.23,"A2":12.45,"B1_b":8.42,"A1B_b":9.58,"A2_b":9.25},
      {"year":2096,"B1_t":14.89,"A1B_t":16.15,"A2_t":16.68,"B1":10.99,"A1B":12.31,"A2":12.63,"B1_b":8.45,"A1B_b":9.70,"A2_b":9.43},
      {"year":2097,"B1_t":14.83,"A1B_t":16.21,"A2_t":16.74,"B1":10.93,"A1B":12.39,"A2":12.66,"B1_b":8.37,"A1B_b":9.85,"A2_b":9.46},
      {"year":2098,"B1_t":14.77,"A1B_t":16.30,"A2_t":16.83,"B1":10.87,"A1B":12.48,"A2":12.78,"B1_b":8.30,"A1B_b":9.96,"A2_b":9.55}
    ]
  },
  "encoding": {
    "x": {
      "field": "year", "type": "quantitative",
      "scale": {"domain": [2000, 2100], "nice": false, "zero": false},
      "axis": {
        "values": [2000, 2010, 2020, 2030, 2040, 2050, 2060, 2070, 2080, 2090, 2100],
        "format": "d",
        "labelExpr": "datum.value % 20 == 0 ? datum.label : ''",
        "labelFont": "Liberation Sans", "labelFontSize": 36, "labelColor": "black",
        "labelPadding": 30, "labelFlush": false, "labelOverlap": false,
        "tickSize": 15, "tickWidth": 1.5, "tickColor": "black",
        "domainColor": "black", "domainWidth": 2, "grid": false,
        "title": "рік", "titleFont": "Liberation Sans", "titleFontSize": 35,
        "titleFontWeight": "normal", "titleColor": "black",
        "titleX": 670, "titleY": 106, "titleAlign": "center", "titleBaseline": "alphabetic"
      }
    }
  },
  "layer": [
    {
      "data": {"name": "annual"},
      "transform": [
        {"fold": ["B1_t", "B1", "B1_b", "A2_t", "A2", "A2_b", "A1B_t", "A1B", "A1B_b"], "as": ["series", "t"]}
      ],
      "mark": {"type": "line", "strokeWidth": 1.5, "strokeJoin": "miter"},
      "encoding": {
        "y": {
          "field": "t", "type": "quantitative",
          "scale": {"domain": [4, 20], "nice": false, "zero": false},
          "axis": {
            "orient": "left",
            "values": [4, 6, 8, 10, 12, 14, 16, 18, 20],
            "labelExpr": "datum.value % 4 == 0 ? datum.label : ''",
            "labelFont": "Liberation Sans", "labelFontSize": 36, "labelColor": "black",
            "labelPadding": 23, "labelFlush": false, "labelOverlap": false,
            "tickSize": 15, "tickWidth": 1.5, "tickColor": "black",
            "domainColor": "black", "domainWidth": 2, "grid": false,
            "title": "t (°C)", "titleFont": "Liberation Sans", "titleFontSize": 39,
            "titleFontWeight": "normal", "titleColor": "black",
            "titleX": -110, "titleY": 451, "titleAngle": -90,
            "titleAlign": "center", "titleBaseline": "middle"
          }
        },
        "color": {
          "field": "series", "type": "nominal",
          "scale": {
            "domain": ["B1_t", "A1B_t", "A2_t", "B1", "A1B", "A2", "B1_b", "A1B_b", "A2_b"],
            "range": ["#0000ff", "#ff0000", "#006633", "#6666ff", "#ff00ff", "#00ff00", "#00ccff", "#ff99cc", "#99cc33"]
          },
          "legend": {
            "values": ["B1", "A1B", "A2"],
            "title": null,
            "orient": "none", "legendX": 109, "legendY": 43, "direction": "vertical",
            "symbolType": "stroke", "symbolSize": 45369, "symbolStrokeWidth": 1.5,
            "clipHeight": 30, "rowPadding": 18, "padding": 21,
            "labelFont": "Liberation Sans", "labelFontSize": 35, "labelFontWeight": "bold",
            "labelColor": "black", "labelOffset": 23,
            "strokeColor": "black", "fillColor": "white", "cornerRadius": 26
          }
        }
      }
    },
    {
      "data": {"name": "annual"},
      "transform": [
        {"fold": ["B1_t", "B1", "B1_b"], "as": ["s", "t"]},
        {"filter": {"field": "year", "oneOf": [2001, 2026, 2051, 2076]}}
      ],
      "mark": {"type": "text", "text": "B", "font": "Liberation Sans", "fontSize": 44, "color": "black", "align": "center", "baseline": "middle"},
      "encoding": {
        "y": {"field": "t", "type": "quantitative", "scale": {"domain": [4, 20], "nice": false, "zero": false}, "axis": null}
      }
    },
    {
      "data": {"name": "annual"},
      "transform": [
        {"fold": ["A1B_t", "A1B", "A1B_b"], "as": ["s", "t"]},
        {"filter": {"field": "year", "oneOf": [2001, 2021, 2041, 2061, 2081]}}
      ],
      "mark": {"type": "text", "text": "1", "font": "Liberation Sans", "fontSize": 44, "color": "black", "align": "center", "baseline": "middle"},
      "encoding": {
        "y": {"field": "t", "type": "quantitative", "scale": {"domain": [4, 20], "nice": false, "zero": false}, "axis": null}
      }
    },
    {
      "data": {"name": "annual"},
      "transform": [
        {"fold": ["A2_t", "A2", "A2_b"], "as": ["s", "t"]},
        {"filter": {"field": "year", "oneOf": [2001, 2018, 2035, 2052, 2069, 2086]}}
      ],
      "mark": {"type": "text", "text": "2", "font": "Liberation Sans", "fontSize": 44, "color": "black", "align": "center", "baseline": "middle"},
      "encoding": {
        "y": {"field": "t", "type": "quantitative", "scale": {"domain": [4, 20], "nice": false, "zero": false}, "axis": null}
      }
    },
    {
      "data": {"name": "smooth"},
      "transform": [
        {"fold": ["B1_t", "B1", "B1_b", "A2_t", "A2", "A2_b", "A1B_t", "A1B", "A1B_b"], "as": ["series", "t"]}
      ],
      "mark": {"type": "line", "strokeWidth": 8.5, "strokeCap": "round", "strokeJoin": "round"},
      "encoding": {
        "y": {
          "field": "t", "type": "quantitative",
          "scale": {"domain": [4, 20], "nice": false, "zero": false},
          "axis": {
            "orient": "right",
            "values": [4, 6, 8, 10, 12, 14, 16, 18, 20],
            "labelExpr": "datum.value % 4 == 0 ? datum.label : ''",
            "labelFont": "Liberation Sans", "labelFontSize": 36, "labelColor": "black",
            "labelPadding": 20, "labelFlush": false, "labelOverlap": false,
            "tickSize": 15, "tickWidth": 1.5, "tickColor": "black",
            "domainColor": "black", "domainWidth": 2, "grid": false,
            "title": null
          }
        },
        "color": {"field": "series", "type": "nominal"}
      }
    },
    {
      "data": {"name": "annual"},
      "transform": [
        {"fold": ["B1", "A1B", "A2"], "as": ["k", "tk"]},
        {"filter": {"field": "year", "equal": 2050}}
      ],
      "mark": {"type": "point", "opacity": 0},
      "encoding": {
        "y": {"field": "tk", "type": "quantitative", "scale": {"domain": [4, 20], "nice": false, "zero": false}, "axis": null},
        "shape": {
          "field": "k", "type": "nominal",
          "scale": {"domain": ["B1", "A1B", "A2"]},
          "legend": {
            "title": null,
            "orient": "none", "legendX": 189, "legendY": 52.5, "direction": "vertical",
            "symbolSize": 1, "symbolOpacity": 0,
            "clipHeight": 53, "rowPadding": 0, "padding": 0,
            "labelExpr": "datum.value == 'B1' ? 'B' : datum.value == 'A1B' ? '1' : '2'",
            "labelFont": "Liberation Sans", "labelFontSize": 48, "labelFontWeight": "normal",
            "labelColor": "black", "labelOffset": 0, "labelAlign": "center"
          }
        }
      }
    }
  ],
  "resolve": {"axis": {"y": "independent"}},
  "config": {"view": {"stroke": null}, "font": "Liberation Sans"}
}
